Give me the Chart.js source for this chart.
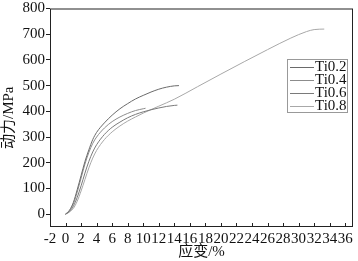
<!DOCTYPE html>
<html lang="zh-CN">
<head>
<meta charset="UTF-8">
<title>应力应变曲线</title>
<script src="https://cdn.jsdelivr.net/npm/chart.js"></script>
<style>
  html, body { margin: 0; padding: 0; background: #fff; }
  #wrap { width: 358px; height: 261px; }
</style>
</head>
<body>
<div id="wrap"><canvas id="grafico"></canvas></div>
<script>
  // dados
  const seriesNames = ['Ti0.2', 'Ti0.4', 'Ti0.6', 'Ti0.8'];
  const seriesColors = ['#6a6a6a', '#8c8c8c', '#7a7a7a', '#a8a8a8'];

  const strainTi02 = [0, 0.5, 1, 1.5, 2, 2.5, 3, 3.5, 4, 5, 6, 7, 8, 9, 10, 11, 12, 13, 14, 14.6];
  const stressTi02 = [0, 15, 45, 95, 150, 205, 250, 290, 318, 355, 385, 410, 430, 448, 462, 475, 486, 494, 499, 500];

  const strainTi04 = [0, 0.5, 1, 1.5, 2, 2.5, 3, 3.5, 4, 5, 6, 7, 8, 9, 10, 10.3];
  const stressTi04 = [0, 12, 38, 85, 140, 195, 240, 275, 300, 335, 360, 378, 392, 403, 410, 412];

  const strainTi06 = [0, 0.5, 1, 1.5, 2, 2.5, 3, 3.5, 4, 5, 6, 7, 8, 9, 10, 11, 12, 13, 14, 14.4];
  const stressTi06 = [0, 10, 30, 65, 110, 160, 205, 242, 270, 310, 338, 358, 375, 388, 398, 406, 413, 419, 423, 424];

  const strainTi08 = [0, 0.5, 1, 1.5, 2, 2.5, 3, 3.5, 4, 5, 6, 7, 8, 9, 10, 12, 14, 17, 20, 23, 26, 29, 31, 32, 33.3];
  const stressTi08 = [0, 8, 22, 50, 90, 135, 180, 218, 248, 290, 320, 343, 362, 378, 393, 420, 447, 496, 545, 593, 640, 685, 710, 718, 720];

  const xTicks = [-2, 0, 2, 4, 6, 8, 10, 12, 14, 16, 18, 20, 22, 24, 26, 28, 30, 32, 34, 36];
  const yTicks = [0, 100, 200, 300, 400, 500, 600, 700, 800];

  const strains = [strainTi02, strainTi04, strainTi06, strainTi08];
  const stresses = [stressTi02, stressTi04, stressTi06, stressTi08];

  const fonte = "'Liberation Serif', 'Noto Sans CJK SC', serif";

  const datasets = seriesNames.map((nome, i) => ({
    label: nome,
    data: strains[i].map((x, k) => ({ x: x, y: stresses[i][k] })),
    borderColor: seriesColors[i],
    borderWidth: 1,
    pointRadius: 0,
    fill: false,
    cubicInterpolationMode: 'monotone'
  }));

  // moldura, ticks internos do eixo x e legenda dentro do gráfico
  const moldura = {
    id: 'moldura',
    afterDraw(chart) {
      const { ctx, chartArea: a, scales } = chart;
      ctx.save();
      ctx.strokeStyle = '#222';
      ctx.lineWidth = 1;
      ctx.strokeRect(a.left + 0.5, a.top + 0.5, a.right - a.left - 1, a.bottom - a.top - 1);
      ctx.beginPath();
      xTicks.forEach(v => {
        const px = Math.round(scales.x.getPixelForValue(v)) + 0.5;
        ctx.moveTo(px, a.bottom);
        ctx.lineTo(px, a.bottom - 4);
      });
      ctx.stroke();

      // legenda
      const lx = 287, ly = 59, lw = 60, lh = 53;
      ctx.strokeStyle = '#999';
      ctx.strokeRect(lx + 0.5, ly + 0.5, lw, lh);
      ctx.font = '15px ' + fonte;
      ctx.textBaseline = 'middle';
      ctx.fillStyle = '#111';
      seriesNames.forEach((nome, i) => {
        const y = ly + 8 + i * 13;
        ctx.strokeStyle = seriesColors[i];
        ctx.beginPath();
        ctx.moveTo(lx + 3, y + 0.5);
        ctx.lineTo(lx + 27, y + 0.5);
        ctx.stroke();
        ctx.fillText(nome, lx + 28, y);
      });
      ctx.restore();
    }
  };

  new Chart(document.getElementById('grafico'), {
    type: 'line',
    data: { datasets: datasets },
    options: {
      responsive: true,
      maintainAspectRatio: false,
      animation: false,
      layout: { padding: { top: 0, right: 5, left: 0, bottom: 0 } },
      plugins: { legend: { display: false }, tooltip: { enabled: false } },
      scales: {
        x: {
          type: 'linear',
          min: -2,
          max: 37,
          afterBuildTicks: s => { s.ticks = xTicks.map(v => ({ value: v })); },
          afterFit: s => { s.height = 34; },
          grid: { display: false, drawTicks: false },
          border: { display: false },
          ticks: { autoSkip: false, maxRotation: 0, padding: 3, color: '#111', font: { family: fonte, size: 15 } },
          title: { display: true, text: '应变/%', color: '#111', padding: 0, font: { family: fonte, size: 15 } }
        },
        y: {
          type: 'linear',
          min: -50,
          max: 800,
          afterBuildTicks: s => { s.ticks = yTicks.map(v => ({ value: v })); },
          afterFit: s => { s.width = 50; },
          grid: { drawOnChartArea: false, drawTicks: true, tickLength: 4, color: '#222' },
          border: { display: false },
          ticks: { padding: 1, color: '#111', font: { family: fonte, size: 15, lineHeight: 1 } },
          title: { display: true, text: '动力/MPa', color: '#111', padding: 0, font: { family: fonte, size: 15 } }
        }
      }
    },
    plugins: [moldura]
  });
</script>
</body>
</html>
